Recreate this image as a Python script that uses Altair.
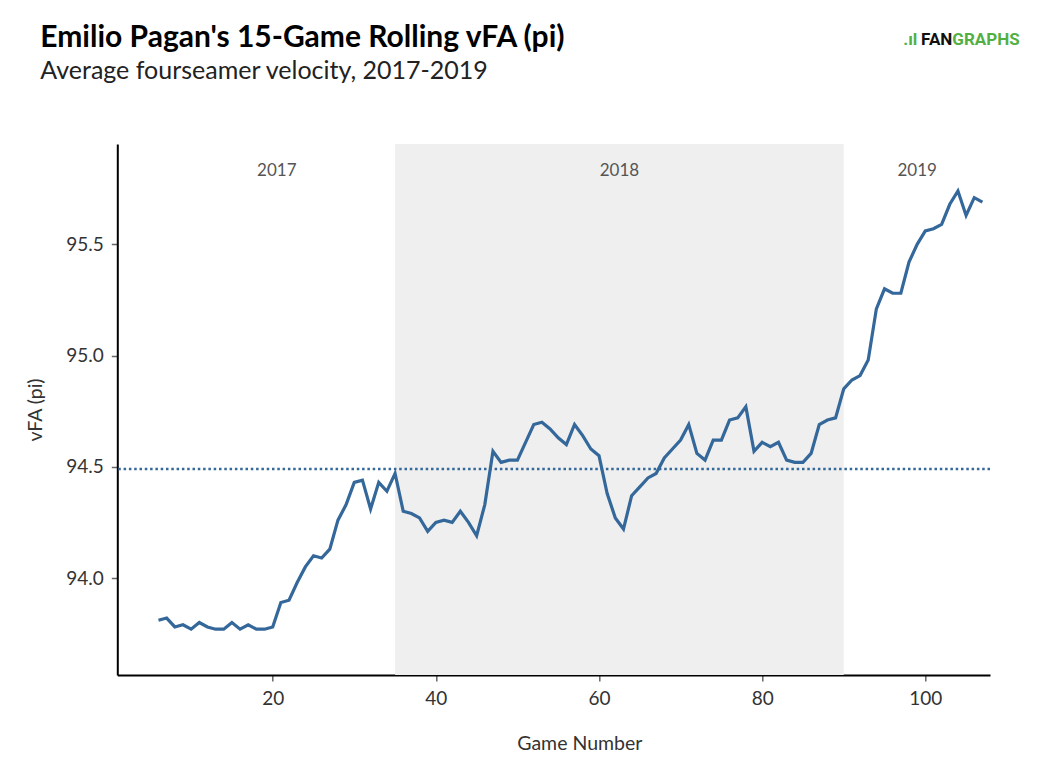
import altair as alt
import pandas as pd

# 15-game rolling fourseamer velocity, games 6..107
games = list(range(6, 108))
vfa = [
    93.81, 93.82, 93.78, 93.79, 93.77, 93.80, 93.78, 93.77, 93.77, 93.80,
    93.77, 93.79, 93.77, 93.77, 93.78, 93.89, 93.90, 93.98, 94.05, 94.10,
    94.09, 94.13, 94.26, 94.33, 94.43, 94.44, 94.31, 94.43, 94.39, 94.47,
    94.30, 94.29, 94.27, 94.21, 94.25, 94.26, 94.25, 94.30, 94.25, 94.19,
    94.33, 94.57, 94.52, 94.53, 94.53, 94.61, 94.69, 94.70, 94.67, 94.63,
    94.60, 94.69, 94.64, 94.58, 94.55, 94.38, 94.27, 94.22, 94.37, 94.41,
    94.45, 94.47, 94.54, 94.58, 94.62, 94.69, 94.56, 94.53, 94.62, 94.62,
    94.71, 94.72, 94.77, 94.57, 94.61, 94.59, 94.61, 94.53, 94.52, 94.52,
    94.56, 94.69, 94.71, 94.72, 94.85, 94.89, 94.91, 94.98, 95.21, 95.30,
    95.28, 95.28, 95.42, 95.50, 95.56, 95.57, 95.59, 95.68, 95.74, 95.63,
    95.71, 95.69,
]
avg_vfa = 94.49

seasons = ["2017", "2018", "2019"]
season_mid = [20.5, 62.5, 99.0]
season_label_y = 95.83
shade_start = [35]
shade_end = [90]

title_text = "Emilio Pagan's 15-Game Rolling vFA (pi)"
subtitle_text = "Average fourseamer velocity, 2017-2019"

x_domain = [0.95, 107.93]
y_domain = [93.564, 95.951]

blue = "#34679a"
font = "Lato"

line_df = pd.DataFrame({"game": games, "vfa": vfa})
label_df = pd.DataFrame({"season": seasons, "game": season_mid, "vfa": [season_label_y] * 3})
shade_df = pd.DataFrame({"game": shade_start, "game_end": shade_end,
                         "vfa": [y_domain[0]], "vfa_top": [y_domain[1]]})
avg_df = pd.DataFrame({"vfa": [avg_vfa]})

xs = alt.Scale(domain=x_domain, nice=False, zero=False)
ys = alt.Scale(domain=y_domain, nice=False, zero=False)
x_axis = alt.Axis(values=[20, 40, 60, 80, 100], format="d",
                  title="Game Number", titlePadding=26, titleX=462)
y_axis = alt.Axis(values=[94.0, 94.5, 95.0, 95.5], format=".1f",
                  title="vFA (pi)", titlePadding=20)

shade = alt.Chart(shade_df).mark_rect(color="#efefef").encode(
    x=alt.X("game:Q", scale=xs, axis=x_axis),
    x2="game_end:Q",
    y=alt.Y("vfa:Q", scale=ys, axis=y_axis),
    y2="vfa_top:Q",
)

labels = alt.Chart(label_df).mark_text(
    font=font, fontSize=17, color="#555", baseline="middle"
).encode(
    x=alt.X("game:Q", scale=xs, axis=x_axis),
    y=alt.Y("vfa:Q", scale=ys, axis=y_axis),
    text="season:N",
)

avg_rule = alt.Chart(avg_df).mark_rule(
    color=blue, strokeWidth=2.5, strokeDash=[2.5, 2.8]
).encode(y=alt.Y("vfa:Q", scale=ys, axis=y_axis))

line = alt.Chart(line_df).mark_line(color=blue, strokeWidth=3.2).encode(
    x=alt.X("game:Q", scale=xs, axis=x_axis),
    y=alt.Y("vfa:Q", scale=ys, axis=y_axis),
)

title = alt.Chart(avg_df).mark_text(
    text=title_text, font=font, fontSize=30, fontWeight="bold", color="#000",
    align="left", baseline="alphabetic"
).encode(x=alt.value(-77), y=alt.value(-97))
subtitle = alt.Chart(avg_df).mark_text(
    text=subtitle_text, font=font, fontSize=25, color="#222",
    align="left", baseline="alphabetic"
).encode(x=alt.value(-77), y=alt.value(-65))

logo_icon = alt.Chart(avg_df).mark_text(
    text=".ıl", font="Roboto", fontSize=17, fontWeight="bold", color="#52b043",
    align="right", baseline="middle"
).encode(x=alt.value(800), y=alt.value(-104))
logo_fan = alt.Chart(avg_df).mark_text(
    text="FAN", font="Roboto", fontSize=17, fontWeight="bold", color="#111",
    align="right", baseline="middle"
).encode(x=alt.value(835), y=alt.value(-104))
logo_graphs = alt.Chart(avg_df).mark_text(
    text="GRAPHS", font="Roboto", fontSize=17, fontWeight="bold", color="#52b043",
    align="left", baseline="middle"
).encode(x=alt.value(835), y=alt.value(-104))

chart = alt.layer(
    shade, labels, avg_rule, line, title, subtitle, logo_icon, logo_fan, logo_graphs
).properties(
    width=872.7,
    height=531,
    autosize=alt.AutoSizeParams(type="none"),
    padding={"left": 109.3, "top": 136, "right": 40, "bottom": 90},
).configure_view(
    stroke=None
).configure_axis(
    grid=False,
    domainColor="#000", domainWidth=2,
    tickColor="#666", tickWidth=1.5, tickSize=6,
    labelFont=font, labelFontSize=19, labelColor="#333", labelPadding=8,
    titleFont=font, titleFontSize=19.5, titleFontWeight="normal", titleColor="#333",
)

chart.save("out.html", embed_options={"renderer": "svg", "actions": False})
